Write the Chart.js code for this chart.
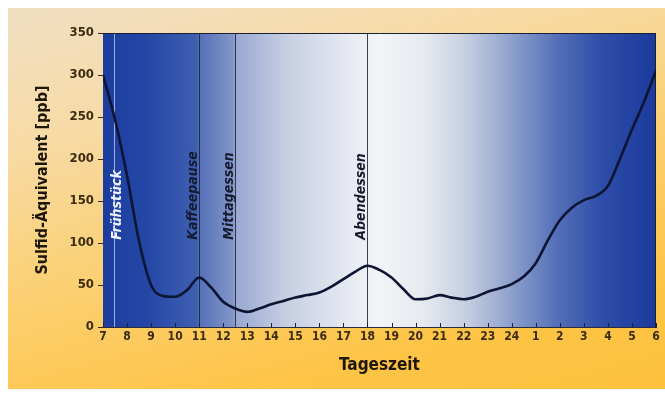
<!DOCTYPE html>
<html>
<head>
<meta charset="utf-8">
<script src="https://cdn.jsdelivr.net/npm/chart.js@4.4.1/dist/chart.umd.min.js"></script>
<style>
  html, body { margin: 0; padding: 0; background: #ffffff; }
  #wrap { position: relative; width: 665px; height: 395px; overflow: hidden; }
  #frame { position: absolute; left: 8px; top: 8px; width: 657px; height: 381px;
    background: linear-gradient(165deg, #f1dfc3 0%, #f7dba6 25%, #fccf6e 55%, #fdc447 80%, #fdc13d 100%); }
  #c { position: absolute; left: 0; top: 0; }
</style>
</head>
<body>
<div id="wrap">
  <div id="frame"></div>
  <canvas id="c" width="665" height="395"></canvas>
</div>
<script>
// Hour tick labels (7 o'clock to 6 o'clock next morning)
const hourLabels = ['7','8','9','10','11','12','13','14','15','16','17','18','19','20','21','22','23','24','1','2','3','4','5','6'];
// Sample times in hours after 7:00
const sampleTimes = [0,0.5,1,1.5,2,2.5,3,3.5,4,4.5,5,5.5,6,6.5,7,7.5,8,8.5,9,9.5,10,10.5,11,11.5,12,12.5,13,13.5,14,14.5,15,15.5,16,16.5,17,17.5,18,18.5,19,19.5,20,20.5,21,21.5,22,22.5,23];
// Sulfid-Äquivalent [ppb]
const sulfidValues = [300,247,180,102,50,37,36,44,59,47,30,22,18,22,27,31,35,38,41,48,57,66,73,68,59,45,33,34,38,35,33,36,42,46,51,60,76,103,127,142,151,156,168,200,235,268,305];
// Meal / break markers
const eventNames = ['Frühstück','Kaffeepause','Mittagessen','Abendessen'];
const eventTimes = [0.45, 4, 5.5, 11];
const yTicks = [0,50,100,150,200,250,300,350];

const FONT = "'DejaVu Sans Condensed', 'Liberation Sans Narrow', 'DejaVu Sans', sans-serif";
const TXT = '#3a2b12';

const bgPlugin = {
  id: 'bgPlugin',
  beforeDraw(chart) {
    const {ctx, chartArea: a} = chart;
    const g = ctx.createLinearGradient(a.left, 0, a.right, 0);
    g.addColorStop(0.00, '#1d3d9e');
    g.addColorStop(0.08, '#2447a6');
    g.addColorStop(0.170, '#3f5fb0');
    g.addColorStop(0.174, '#5470b8');
    g.addColorStop(0.235, '#8396c8');
    g.addColorStop(0.240, '#98a8d2');
    g.addColorStop(0.33, '#c6cee2');
    g.addColorStop(0.45, '#e8ebf2');
    g.addColorStop(0.50, '#f3f4f7');
    g.addColorStop(0.58, '#e6e9ef');
    g.addColorStop(0.66, '#c4cde0');
    g.addColorStop(0.74, '#8c9fcc');
    g.addColorStop(0.82, '#5570b8');
    g.addColorStop(0.90, '#2e4ea8');
    g.addColorStop(1.00, '#1b3a9c');
    ctx.save();
    ctx.fillStyle = g;
    ctx.fillRect(a.left, a.top, a.right - a.left, a.bottom - a.top);
    ctx.restore();
  },
  beforeDatasetsDraw(chart) {
    const {ctx, chartArea: a, scales: {x, y}} = chart;
    ctx.save();
    // event lines and labels
    eventNames.forEach((name, i) => {
      const px = Math.round(x.getPixelForValue(eventTimes[i])) + 0.5;
      const first = i === 0;
      ctx.strokeStyle = first ? 'rgba(170,190,230,0.9)' : 'rgba(30,30,50,0.85)';
      ctx.lineWidth = 1;
      ctx.beginPath();
      ctx.moveTo(px, a.top);
      ctx.lineTo(px, a.bottom);
      ctx.stroke();
      ctx.save();
      const bx = first ? px + 6 : px - 3;
      ctx.translate(bx, y.getPixelForValue(104));
      ctx.rotate(-Math.PI / 2);
      ctx.font = "italic bold 14px " + FONT;
      ctx.fillStyle = first ? '#eef3ff' : '#161a2e';
      ctx.textAlign = 'left';
      ctx.textBaseline = 'alphabetic';
      ctx.fillText(name, 0, 0);
      ctx.restore();
    });
    // small inner tick marks on the time axis
    ctx.strokeStyle = '#1a1f38';
    ctx.lineWidth = 1;
    hourLabels.forEach((_, i) => {
      const px = Math.round(x.getPixelForValue(i)) + 0.5;
      ctx.beginPath();
      ctx.moveTo(px, a.bottom);
      ctx.lineTo(px, a.bottom - 4);
      ctx.stroke();
    });
    // frame
    ctx.strokeStyle = '#1a1f38';
    ctx.beginPath();
    ctx.moveTo(a.left, a.top + 0.5);
    ctx.lineTo(a.right - 0.5, a.top + 0.5);
    ctx.lineTo(a.right - 0.5, a.bottom);
    ctx.stroke();
    ctx.restore();
  }
};

new Chart(document.getElementById('c'), {
  type: 'line',
  data: {
    datasets: [{
      data: sampleTimes.map((t, i) => ({x: t, y: sulfidValues[i]})),
      borderColor: '#0e1433',
      borderWidth: 2.6,
      pointRadius: 0,
      tension: 0.4,
      cubicInterpolationMode: 'monotone',
      fill: false
    }]
  },
  options: {
    responsive: false,
    animation: false,
    events: [],
    layout: { padding: { left: 0, top: 33, right: 9, bottom: 0 } },
    plugins: { legend: { display: false }, tooltip: { enabled: false } },
    scales: {
      x: {
        type: 'linear', min: 0, max: 23,
        afterFit(s) { s.height = 68; },
        afterBuildTicks(s) { s.ticks = hourLabels.map((_, i) => ({value: i})); },
        ticks: {
          autoSkip: false, maxRotation: 0, padding: 3,
          color: TXT, font: { family: FONT, size: 12, weight: 'bold' },
          callback: (v) => hourLabels[v]
        },
        grid: { drawOnChartArea: false, drawTicks: false },
        border: { display: true, color: '#2a2a40', width: 1 },
        title: { display: true, text: 'Tageszeit', color: '#1e1608',
          font: { family: FONT, size: 17, weight: 'bold' }, padding: { top: 0, bottom: 19 } }
      },
      y: {
        min: 0, max: 350,
        afterFit(s) { s.width = 103; },
        afterBuildTicks(s) { s.ticks = yTicks.map(v => ({value: v})); },
        ticks: { padding: 4, color: TXT, font: { family: FONT, size: 13, weight: 'bold' } },
        grid: { drawOnChartArea: false, drawTicks: true, tickLength: 5, color: '#3a2b12' },
        border: { display: false },
        title: { display: true, text: 'Sulfid-Äquivalent [ppb]', color: '#1e1608',
          font: { family: FONT, size: 16, weight: 'bold' }, padding: { top: 33, bottom: 0 } }
      }
    }
  },
  plugins: [bgPlugin]
});
</script>
</body>
</html>
